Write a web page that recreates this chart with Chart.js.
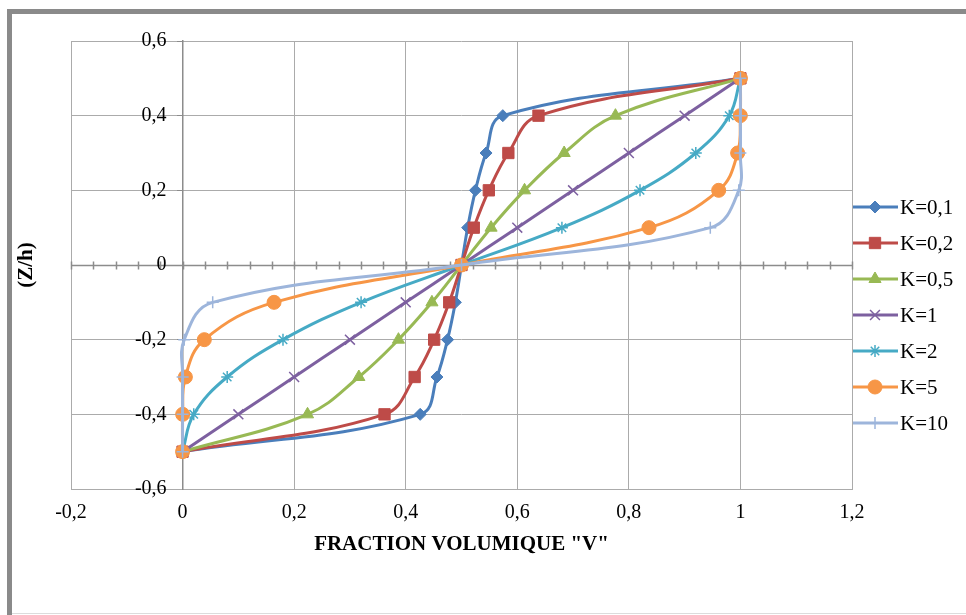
<!DOCTYPE html>
<html lang="fr">
<head>
<meta charset="UTF-8">
<title>Fraction volumique</title>
<script src="https://cdn.jsdelivr.net/npm/chart.js"></script>
<style>
  html, body { margin: 0; padding: 0; background: #fff; }
  #wrap { position: relative; width: 966px; height: 615px; }
</style>
</head>
<body>
<div id="wrap"><canvas id="myChart"></canvas></div>
<script>
// (Z/h) positions, shared by every series
const zValues = [-0.5, -0.4, -0.3, -0.2, -0.1, 0, 0.1, 0.2, 0.3, 0.4, 0.5];

// volume fraction V, one array per K
const vK01 = [0, 0.426, 0.456, 0.475, 0.489, 0.5, 0.511, 0.525, 0.544, 0.574, 1];
const vK02 = [0, 0.362, 0.416, 0.451, 0.478, 0.5, 0.522, 0.549, 0.584, 0.638, 1];
const vK05 = [0, 0.224, 0.316, 0.387, 0.447, 0.5, 0.553, 0.613, 0.684, 0.776, 1];
const vK1  = [0, 0.1, 0.2, 0.3, 0.4, 0.5, 0.6, 0.7, 0.8, 0.9, 1];
const vK2  = [0, 0.02, 0.08, 0.18, 0.32, 0.5, 0.68, 0.82, 0.92, 0.98, 1];
const vK5  = [0, 0.0002, 0.005, 0.039, 0.164, 0.5, 0.836, 0.961, 0.995, 0.9998, 1];
const vK10 = [0, 0, 0.0001, 0.003, 0.054, 0.5, 0.946, 0.997, 0.9999, 1, 1];

const seriesNames = ['K=0,1', 'K=0,2', 'K=0,5', 'K=1', 'K=2', 'K=5', 'K=10'];
const seriesValues = [vK01, vK02, vK05, vK1, vK2, vK5, vK10];

const xTicks = [-0.2, 0, 0.2, 0.4, 0.6, 0.8, 1, 1.2];
const xTickLabels = ['-0,2', '0', '0,2', '0,4', '0,6', '0,8', '1', '1,2'];
const yTicks = [-0.6, -0.4, -0.2, 0, 0.2, 0.4, 0.6];
const yTickLabels = ['-0,6', '-0,4', '-0,2', '0', '0,2', '0,4', '0,6'];
const minorStep = 0.04;

const xTitle = 'FRACTION VOLUMIQUE "V"';
const yTitle = '(Z/h)';

// style per series
const colors = ['#4A7EBB', '#BE4B48', '#98B954', '#7D60A0', '#46AAC5', '#F79646', '#9DB5DB'];
const markers = ['rectRot', 'rect', 'triangle', 'crossRot', 'star', 'circle', 'cross'];
const radii = [6, 8, 7, 7, 6, 7, 6];

const serif = "'Liberation Serif', 'Times New Roman', serif";
const gridColor = '#ababab';
const axisColor = '#8c8c8c';

const datasets = seriesValues.map((vals, i) => ({
    label: seriesNames[i],
    data: vals.map((v, j) => ({ x: v, y: zValues[j] })),
    showLine: true,
    tension: 0.4,
    borderColor: colors[i],
    backgroundColor: colors[i],
    borderWidth: 3,
    pointStyle: markers[i],
    pointRadius: radii[i],
    pointHoverRadius: radii[i],
    pointBackgroundColor: colors[i],
    pointBorderColor: colors[i],
    pointBorderWidth: (markers[i].indexOf('cross') >= 0 || markers[i] === 'star') ? 1.5 : 1,
    order: seriesNames.length - i
}));

const framePlugin = {
    id: 'frame',
    beforeDraw(chart) {
        const ctx = chart.ctx;
        ctx.save();
        ctx.fillStyle = '#fff';
        ctx.fillRect(0, 0, chart.width, chart.height);
        ctx.fillStyle = '#8a8a8a';
        ctx.fillRect(7, 9, 5, chart.height - 9);
        ctx.fillRect(7, 9, chart.width - 7, 5);
        ctx.fillStyle = '#dcdcdc';
        ctx.fillRect(12, chart.height - 2, chart.width - 12, 1);
        ctx.restore();
    }
};

// horizontal axis through Z/h = 0 with crossing minor ticks
const zeroAxisPlugin = {
    id: 'zeroAxis',
    beforeDatasetsDraw(chart) {
        const { ctx, chartArea, scales } = chart;
        const y0 = Math.round(scales.y.getPixelForValue(0)) + 0.5;
        ctx.save();
        ctx.strokeStyle = axisColor;
        ctx.lineWidth = 1.5;
        ctx.beginPath();
        ctx.moveTo(chartArea.left, y0);
        ctx.lineTo(chartArea.right, y0);
        const n = Math.round((scales.x.max - scales.x.min) / minorStep);
        for (let k = 0; k <= n; k++) {
            const px = Math.round(scales.x.getPixelForValue(scales.x.min + k * minorStep)) + 0.5;
            ctx.moveTo(px, y0 - 4);
            ctx.lineTo(px, y0 + 4);
        }
        ctx.stroke();
        ctx.restore();
    }
};

const textPlugin = {
    id: 'texts',
    afterDraw(chart) {
        const { ctx, chartArea, scales } = chart;

        // vertical-axis labels beside the axis at V = 0
        ctx.save();
        ctx.font = '20px ' + serif;
        ctx.fillStyle = '#000';
        ctx.textAlign = 'right';
        ctx.textBaseline = 'middle';
        const ax = scales.x.getPixelForValue(0);
        scales.y.ticks.forEach((t, i) => {
            ctx.fillText(yTickLabels[i], ax - 16, scales.y.getPixelForValue(t.value));
        });
        ctx.restore();

        ctx.save();
        ctx.fillStyle = '#000';
        ctx.font = 'bold 21px ' + serif;
        ctx.textAlign = 'center';
        ctx.textBaseline = 'middle';
        ctx.fillText(xTitle, (chartArea.left + chartArea.right) / 2, chartArea.bottom + 56);
        ctx.translate(27, (chartArea.top + chartArea.bottom) / 2);
        ctx.rotate(-Math.PI / 2);
        ctx.fillText(yTitle, 0, 0);
        ctx.restore();

        // legend: line sample with marker, then label
        ctx.save();
        ctx.font = '21px ' + serif;
        ctx.textAlign = 'left';
        ctx.textBaseline = 'middle';
        const lx = chartArea.right + 1;
        const top = chartArea.top + 166;
        chart.data.datasets.forEach((ds, i) => {
            const ly = top + i * 36;
            ctx.strokeStyle = ds.borderColor;
            ctx.lineWidth = 3;
            ctx.beginPath();
            ctx.moveTo(lx, ly);
            ctx.lineTo(lx + 45, ly);
            ctx.stroke();
            ctx.fillStyle = ds.pointBackgroundColor;
            ctx.strokeStyle = ds.pointBorderColor;
            ctx.lineWidth = ds.pointBorderWidth;
            Chart.helpers.drawPoint(ctx, {
                pointStyle: ds.pointStyle,
                radius: ds.pointRadius,
                rotation: 0,
                borderWidth: ds.pointBorderWidth
            }, lx + 22, ly);
            ctx.fillStyle = '#000';
            ctx.fillText(ds.label, lx + 47, ly + 1);
        });
        ctx.restore();
    }
};

new Chart(document.getElementById('myChart').getContext('2d'), {
    type: 'scatter',
    data: { datasets: datasets },
    plugins: [framePlugin, zeroAxisPlugin, textPlugin],
    options: {
        responsive: true,
        maintainAspectRatio: false,
        animation: false,
        layout: { padding: { left: 71, top: 41, right: 114, bottom: 0 } },
        plugins: {
            legend: { display: false },
            tooltip: { enabled: false }
        },
        scales: {
            x: {
                type: 'linear',
                position: 'bottom',
                min: -0.2,
                max: 1.2,
                afterBuildTicks: s => { s.ticks = xTicks.map(v => ({ value: v })); },
                afterFit: s => { s.height = 126; },
                ticks: {
                    callback: (v, i) => xTickLabels[i],
                    font: { family: serif, size: 20 },
                    color: '#000',
                    padding: 12,
                    maxRotation: 0
                },
                grid: { color: gridColor, lineWidth: 1, drawTicks: false },
                border: { display: true, color: gridColor }
            },
            y: {
                type: 'linear',
                position: { x: 0 },
                min: -0.6,
                max: 0.6,
                afterBuildTicks: s => { s.ticks = yTicks.map(v => ({ value: v })); },
                ticks: { display: false },
                grid: { color: gridColor, lineWidth: 1, drawTicks: true, tickLength: 5, tickColor: axisColor },
                border: { display: true, color: axisColor, width: 1.5 }
            }
        }
    }
});
</script>
</body>
</html>
